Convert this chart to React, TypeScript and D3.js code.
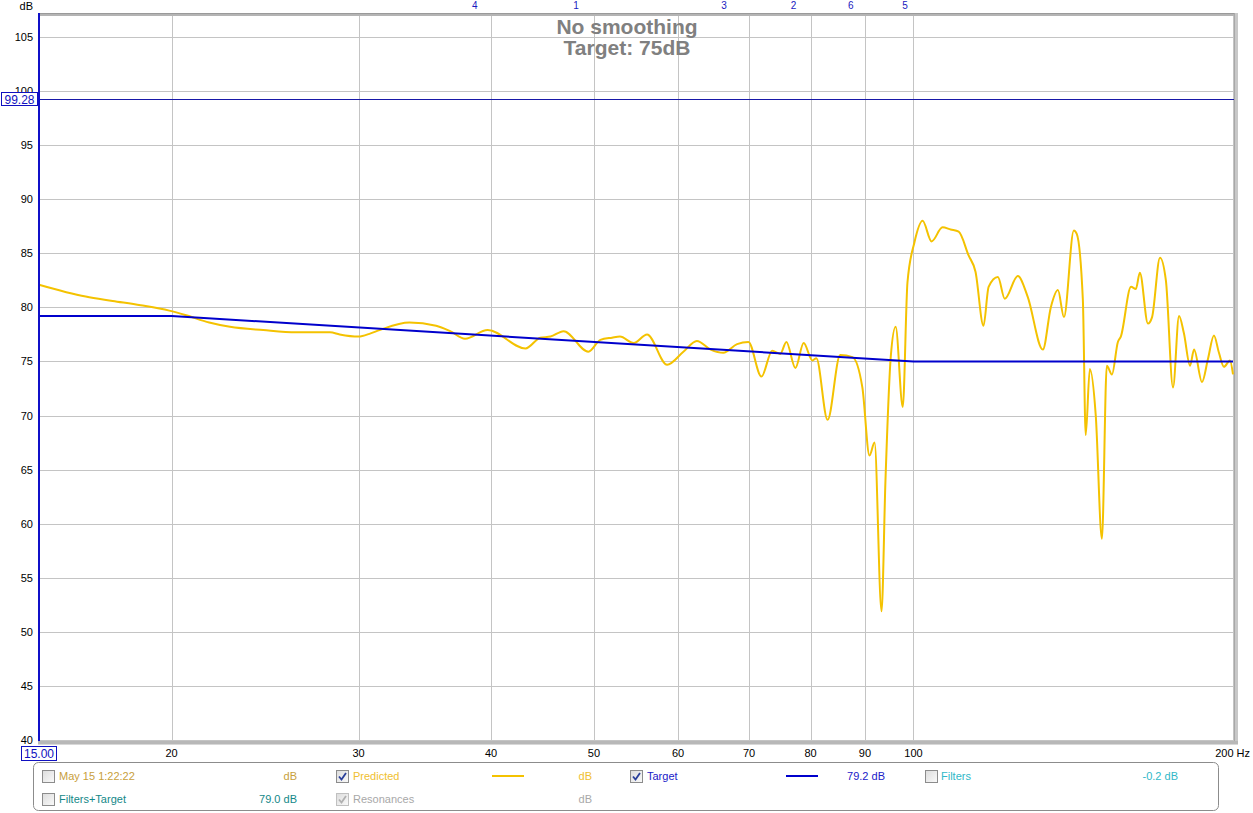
import React from 'react';
import * as d3 from 'd3';

// ---- data ----
const predFreqs = [
  15.0, 16.6, 17.6, 18.7, 19.9, 20.6, 21.7, 22.7, 24.4, 26.2, 28.2, 28.8, 30.0, 30.8, 31.4,
  33.5, 35.5, 36.6, 37.8, 39.7, 43.1, 44.5, 45.5, 46.8, 49.4, 50.7, 52.0, 52.9, 54.5, 56.1,
  58.6, 60.7, 62.5, 64.4, 66.2, 68.2, 69.9, 71.9, 73.6, 74.9, 75.9, 77.4, 78.8, 80.3, 81.0,
  83.0, 85.3, 87.6, 89.5, 90.9, 91.9, 93.3, 94.1, 95.2, 96.2, 97.7, 98.7, 100.2, 102.0, 104.0,
  106.5, 108.4, 110.3, 112.7, 114.4, 116.4, 117.7, 120.1, 121.9, 125.4, 128.1, 132.4, 134.7, 136.8, 138.6,
  141.6, 142.5, 144.4, 145.3, 146.6, 148.5, 150.5, 152.1, 153.8, 155.8, 156.8, 160.3, 162.0, 163.4, 166.3,
  167.8, 170.7, 172.9, 175.6, 177.9, 179.8, 182.2, 183.8, 187.0, 189.4, 191.9, 194.0, 196.1, 198.7, 200.0,
];
const predDb = [
  82.1, 81.0, 80.6, 80.2, 79.7, 79.3, 78.6, 78.2, 77.9, 77.7, 77.7, 77.5, 77.3, 77.6, 77.9,
  78.6, 78.3, 77.8, 77.1, 77.9, 76.2, 77.2, 77.3, 77.8, 75.9, 77.0, 77.2, 77.3, 76.7, 77.5,
  74.7, 75.9, 76.9, 76.1, 75.8, 76.6, 76.8, 73.6, 76.0, 75.7, 76.8, 74.4, 76.7, 75.1, 75.3,
  69.6, 75.6, 75.4, 72.6, 66.3, 67.5, 51.9, 64.0, 75.5, 78.2, 70.8, 82.3, 86.0, 88.0, 86.1,
  87.4, 87.2, 87.0, 84.8, 83.3, 78.3, 81.9, 82.8, 80.8, 82.9, 81.0, 76.1, 80.0, 81.6, 79.1,
  87.1, 86.8, 80.7, 68.2, 74.3, 70.0, 58.6, 74.6, 73.8, 76.8, 77.3, 81.9, 81.7, 83.2, 78.5,
  79.1, 84.6, 82.5, 72.6, 79.2, 77.6, 74.6, 76.1, 73.1, 75.2, 77.4, 75.8, 74.5, 75.1, 73.8,
];
const targetFreqs = [15, 20, 100, 200];
const targetDb = [79.2, 79.2, 75, 75];
const markerLevel = 99.28;
const yTicks = [40, 45, 50, 55, 60, 65, 70, 75, 80, 85, 90, 95, 100, 105];
const xGrid = [20, 30, 40, 50, 60, 70, 80, 90, 100, 200];
const xLabels = ['20', '30', '40', '50', '60', '70', '80', '90', '100'];
const xLabelFreqs = [20, 30, 40, 50, 60, 70, 80, 90, 100];
const filterLabels = ['4', '1', '3', '2', '6', '5'];
const filterFreqs = [38.6, 48.1, 66.3, 77.1, 87.3, 98.2];

const FONT = '"Liberation Sans", Arial, sans-serif';

const L = 38, R = 1234, T = 14, B = 741;

function CheckBox({ x, y, checked, grey }: { x: number; y: number; checked: boolean; grey?: boolean }) {
  return (
    <g>
      <rect x={x + 0.5} y={y + 0.5} width={12} height={12} fill="url(#cbgrad)" stroke={grey ? '#c0c0c0' : '#8c8c8c'} />
      {checked && (
        <path
          d={`M${x + 3},${y + 6.5} L${x + 5.5},${y + 9.5} L${x + 10},${y + 3}`}
          fill="none"
          stroke={grey ? '#b0b0b0' : '#2a3f9a'}
          strokeWidth={1.8}
        />
      )}
    </g>
  );
}

export default function App() {
  const x = d3.scaleLog().domain([15, 200]).range([39, 1233]);
  const y = d3.scaleLinear().domain([40, 105]).range([740, 37]);

  const predLine = d3
    .line<number>()
    .x((_, i) => x(predFreqs[i]))
    .y((d) => y(d))
    .curve(d3.curveMonotoneX)(predDb) as string;

  const targetLine = d3
    .line<number>()
    .x((_, i) => x(targetFreqs[i]))
    .y((d) => y(d))(targetDb) as string;

  const legY1 = 776, legY2 = 799;

  return (
    <svg
      width={1253}
      height={813}
      style={{ position: 'absolute', left: 0, top: 0, background: '#fff' }}
      fontFamily={FONT}
    >
      <defs>
        <linearGradient id="cbgrad" x1="0" y1="0" x2="1" y2="1">
          <stop offset="0" stopColor="#dcdcdc" />
          <stop offset="1" stopColor="#fafafa" />
        </linearGradient>
        <clipPath id="plotclip">
          <rect x={L} y={T} width={R - L} height={B - T} />
        </clipPath>
      </defs>

      {/* grid */}
      {yTicks.map((t) => (
        <line key={'h' + t} x1={L} x2={R} y1={Math.round(y(t)) + 0.5} y2={Math.round(y(t)) + 0.5} stroke="#c4c4c4" />
      ))}
      {xGrid.map((f) => (
        <line key={'v' + f} x1={Math.round(x(f)) + 0.5} x2={Math.round(x(f)) + 0.5} y1={T} y2={B} stroke="#c4c4c4" />
      ))}

      {/* frame: top/right/bottom shadow borders */}
      <rect x={L} y={T - 1} width={R - L + 4} height={3} fill="#b4b4b4" />
      <rect x={L} y={T - 1} width={R - L + 4} height={1} fill="#9a9a9a" />
      <rect x={R} y={T - 1} width={4} height={B - T + 5} fill="#c8c8c8" />
      <rect x={R} y={T - 1} width={1} height={B - T + 5} fill="#a8a8a8" />
      <rect x={L} y={B} width={R - L + 4} height={3} fill="#b8b8b8" />
      <rect x={L} y={B + 3} width={R - L + 4} height={1} fill="#d8d8d8" />

      {/* title */}
      <text x={627} y={34} textAnchor="middle" fontSize={21} fontWeight="bold" fill="#808080">
        No smoothing
      </text>
      <text x={627} y={55} textAnchor="middle" fontSize={21} fontWeight="bold" fill="#808080">
        Target: 75dB
      </text>

      {/* marker line */}
      <line x1={L} x2={R} y1={Math.round(y(markerLevel)) + 0.5} y2={Math.round(y(markerLevel)) + 0.5} stroke="#1818a8" />

      {/* curves */}
      <g clipPath="url(#plotclip)">
        <path d={predLine} fill="none" stroke="#f4c200" strokeWidth={2} strokeLinejoin="round" />
        <path d={targetLine} fill="none" stroke="#0000cc" strokeWidth={2} />
      </g>

      {/* left axis */}
      <rect x={L} y={T - 1} width={2} height={B - T + 1} fill="#1010c8" />

      {/* y ticks */}
      <text x={33} y={10} textAnchor="end" fontSize={11} fill="#000">dB</text>
      {yTicks.map((t) => (
        <text key={'yl' + t} x={33} y={y(t) + 4} textAnchor="end" fontSize={11} fill="#000">
          {t}
        </text>
      ))}
      {/* marker value box */}
      <rect x={1.5} y={92.5} width={36} height={13} fill="#fff" stroke="#1010c0" />
      <text x={19.5} y={103.5} textAnchor="middle" fontSize={12} fill="#1010c0">
        {markerLevel.toFixed(2)}
      </text>

      {/* x ticks */}
      {xLabels.map((lab, i) => (
        <text key={'xl' + lab} x={x(xLabelFreqs[i])} y={757} textAnchor="middle" fontSize={11} fill="#000">
          {lab}
        </text>
      ))}
      <text x={1250} y={757} textAnchor="end" fontSize={11} fill="#000">200 Hz</text>
      <rect x={21.5} y={746.5} width={35} height={14} fill="#fff" stroke="#1010c0" />
      <text x={39} y={758} textAnchor="middle" fontSize={12} fill="#1010c0">15.00</text>

      {/* filter markers */}
      {filterLabels.map((lab, i) => (
        <text key={'fm' + i} x={x(filterFreqs[i])} y={9} textAnchor="middle" fontSize={10} fill="#1a1ac0">
          {lab}
        </text>
      ))}

      {/* legend */}
      <rect x={33.5} y={762.5} width={1185} height={48} rx={5} fill="#fff" stroke="#8c8c8c" />
      <g fontSize={11}>
        <CheckBox x={42} y={770} checked={false} />
        <text x={59} y={legY1 + 4} fill="#c8a03c">May 15 1:22:22</text>
        <text x={297} y={legY1 + 4} textAnchor="end" fill="#c8a03c">dB</text>

        <CheckBox x={336} y={770} checked={true} />
        <text x={353} y={legY1 + 4} fill="#f0c030">Predicted</text>
        <line x1={492} x2={524} y1={legY1} y2={legY1} stroke="#f4c200" strokeWidth={2} />
        <text x={592} y={legY1 + 4} textAnchor="end" fill="#f0c030">dB</text>

        <CheckBox x={630} y={770} checked={true} />
        <text x={647} y={legY1 + 4} fill="#2020c8">Target</text>
        <line x1={786} x2={818} y1={legY1} y2={legY1} stroke="#0000cc" strokeWidth={2} />
        <text x={885} y={legY1 + 4} textAnchor="end" fill="#2020c8">79.2 dB</text>

        <CheckBox x={925} y={770} checked={false} />
        <text x={941} y={legY1 + 4} fill="#30b8c8">Filters</text>
        <text x={1178} y={legY1 + 4} textAnchor="end" fill="#30b8c8">-0.2 dB</text>

        <CheckBox x={42} y={793} checked={false} />
        <text x={59} y={legY2 + 4} fill="#148888">Filters+Target</text>
        <text x={297} y={legY2 + 4} textAnchor="end" fill="#148888">79.0 dB</text>

        <CheckBox x={336} y={793} checked={true} grey />
        <text x={353} y={legY2 + 4} fill="#a8a8a8">Resonances</text>
        <text x={592} y={legY2 + 4} textAnchor="end" fill="#a8a8a8">dB</text>
      </g>
    </svg>
  );
}
